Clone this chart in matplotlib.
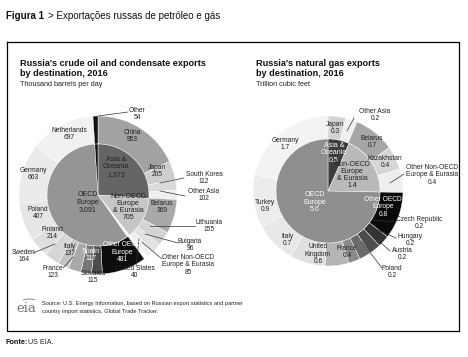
import matplotlib.pyplot as plt
from matplotlib.patches import Arc

# crude oil, thousand barrels per day (clockwise from 12 o'clock)
oil_regions = ["Asia & Oceania", "Non-OECD Europe & Eurasia", "United States", "OECD Europe", "Other"]
oil_region_vals = [1373, 705, 40, 3091, 54]
oil_region_cols = ["#656565", "#c6c6c6", "#f6f6f6", "#959595", "#111111"]

oil_countries = ["China", "Japan", "South Korea", "Other Asia",
                 "Belarus", "Lithuania", "Bulgaria", "Other Non-OECD Europe & Eurasia",
                 "United States",
                 "Other OECD Europe", "Slovakia", "Spain", "Italy", "France", "Sweden",
                 "Finland", "Poland", "Germany", "Netherlands",
                 "Other"]
oil_country_vals = [953, 205, 112, 102,
                    369, 155, 96, 85,
                    40,
                    481, 115, 117, 137, 123, 164, 214, 407, 663, 697,
                    54]
oil_country_cols = ["#a2a2a2", "#cecece", "#dadada", "#efefef",
                    "#a9a9a9", "#d4d4d4", "#e2e2e2", "#efefef",
                    "#fafafa",
                    "#0d0d0d", "#4d4d4d", "#767676", "#a9a9a9", "#c4c4c4", "#d6d6d6",
                    "#dedede", "#e6e6e6", "#ebebeb", "#f1f1f1",
                    "#111111"]

# natural gas, trillion cubic feet
gas_regions = ["Asia & Oceania", "Non-OECD Europe & Eurasia", "OECD Europe"]
gas_region_vals = [0.5, 1.4, 5.6]
gas_region_cols = ["#3d3d3d", "#b9b9b9", "#8f8f8f"]

gas_countries = ["Japan", "Other Asia", "Belarus", "Kazakhstan", "Other Non-OECD Europe & Eurasia",
                 "Other OECD Europe", "Czech Republic", "Hungary", "Austria", "Poland",
                 "France", "United Kingdom", "Italy", "Turkey", "Germany"]
gas_country_vals = [0.3, 0.2, 0.7, 0.4, 0.4,
                    0.8, 0.2, 0.2, 0.2, 0.2,
                    0.4, 0.6, 0.7, 0.9, 1.7]
gas_country_cols = ["#d2d2d2", "#f0f0f0", "#a6a6a6", "#d6d6d6", "#eeeeee",
                    "#0a0a0a", "#333333", "#4d4d4d", "#6b6b6b", "#8a8a8a",
                    "#b5b5b5", "#e0e0e0", "#e8e8e8", "#ececec", "#f3f3f3"]

W, H = 468, 357
fig = plt.figure(figsize=(W / 100, H / 100), dpi=100)
ax = fig.add_axes([0, 0, 1, 1])
plt.rcParams['font.family'] = ['Liberation Sans', 'DejaVu Sans']


def Y(y):
    return H - y


def donut(cx, cy, R, r, outer, outer_cols, inner, inner_cols):
    ax.pie(outer, colors=outer_cols, radius=R, center=(cx, Y(cy)), startangle=90,
           counterclock=False, frame=True,
           wedgeprops=dict(width=R - r, edgecolor="white", linewidth=0.3))
    ax.pie(inner, colors=inner_cols, radius=r, center=(cx, Y(cy)), startangle=90,
           counterclock=False, frame=True,
           wedgeprops=dict(edgecolor="white", linewidth=0.3))


donut(98, 195, 79, 51, oil_country_vals, oil_country_cols, oil_region_vals, oil_region_cols)
donut(328, 191, 75, 52, gas_country_vals, gas_country_cols, gas_region_vals, gas_region_cols)

ax.set_xlim(0, W)
ax.set_ylim(0, H)
ax.set_aspect("auto")
ax.axis("off")


def lab(x, y, s, c="#222222", fs=4.8):
    ax.text(x, Y(y), s, ha="center", va="center", fontsize=fs, color=c, linespacing=1.05)


def line(x0, y0, x1, y1):
    ax.plot([x0, x1], [Y(y0), Y(y1)], color="#333333", lw=0.5)


# left chart labels
lab(137, 114, "Other\n54")
line(98, 116, 128, 112)
lab(69, 134, "Netherlands\n697")
lab(132, 136, "China\n953")
lab(116, 167, "Asia &\nOceania\n1,373", fs=5)
lab(157, 171, "Japan\n205")
lab(33, 174, "Germany\n663")
lab(204, 178, "South Korea\n112")
line(160, 183, 184, 178)
lab(204, 195, "Other Asia\n102")
line(160, 191, 185, 196)
lab(88, 202, "OECD\nEurope\n3,091", fs=5)
lab(128, 207, "Non-OECD\nEurope\n& Eurasia\n705", fs=5)
lab(162, 207, "Belarus\n369")
lab(38, 213, "Poland\n407")
lab(209, 226, "Lithuania\n155")
line(150, 226, 195, 226)
lab(52, 233, "Finland\n214")
lab(190, 245, "Bulgaria\n96")
line(145, 234, 178, 243)
lab(24, 256, "Sweden\n164")
line(33, 253, 55, 244)
lab(70, 250, "Italy\n137")
lab(91, 255, "Spain\n117", c="white", fs=5)
lab(122, 252, "Other OECD\nEurope\n481", c="white")
lab(188, 265, "Other Non-OECD\nEurope & Eurasia\n85")
line(142, 242, 162, 259)
lab(53, 272, "France\n123")
line(63, 268, 73, 257)
lab(93, 277, "Slovakia\n115")
line(93, 266, 93, 271)
lab(135, 272, "United States\n40")
line(139, 239, 136, 266)

# right chart labels
lab(375, 115, "Other Asia\n0.2")
line(347, 131, 354, 118)
lab(335, 128, "Japan\n0.3")
lab(285, 144, "Germany\n1.7")
lab(372, 142, "Belarus\n0.7")
lab(334, 153, "Asia &\nOceania\n0.5", c="white", fs=5)
lab(352, 175, "Non-OECD\nEurope\n& Eurasia\n1.4", fs=5)
lab(385, 162, "Kazakhstan\n0.4")
lab(432, 175, "Other Non-OECD\nEurope & Eurasia\n0.4")
line(390, 183, 404, 174)
lab(315, 202, "OECD\nEurope\n5.6", c="white", fs=5)
lab(265, 206, "Turkey\n0.9")
lab(383, 207, "Other OECD\nEurope\n0.8", c="white")
lab(419, 223, "Czech Republic\n0.2")
line(373, 220, 396, 222)
lab(410, 240, "Hungary\n0.2")
line(373, 228, 396, 238)
lab(287, 240, "Italy\n0.7")
lab(318, 254, "United\nKingdom\n0.6")
lab(347, 252, "France\n0.4")
lab(402, 254, "Austria\n0.2")
line(370, 233, 390, 251)
lab(392, 272, "Poland\n0.2")
line(362, 242, 382, 268)

# titles
ax.text(20, Y(59), "Russia's crude oil and condensate exports\nby destination, 2016",
        ha="left", va="top", fontsize=6.6, fontweight="bold", color="#111111", linespacing=1.2)
ax.text(20, Y(85), "Thousand barrels per day", ha="left", va="center", fontsize=5.2, color="#222222")
ax.text(256, Y(59), "Russia's natural gas exports\nby destination, 2016",
        ha="left", va="top", fontsize=6.6, fontweight="bold", color="#111111", linespacing=1.2)
ax.text(256, Y(85), "Trillion cubic feet", ha="left", va="center", fontsize=5.2, color="#222222")

# frame box
ax.plot([7, 459, 459, 7, 7], [Y(42), Y(42), Y(331), Y(331), Y(42)], color="black", lw=0.9)

# header and footer
ax.text(6, Y(16), "Figura 1", ha="left", va="center", fontsize=7, fontweight="bold", color="#111111")
ax.text(48, Y(16), "> Exportações russas de petróleo e gás", ha="left", va="center",
        fontsize=7, color="#111111")
ax.text(16, Y(309), "eia", ha="left", va="center", fontsize=9.5, family="DejaVu Serif", color="#777777")
ax.add_patch(Arc((29, Y(305)), 22, 12, theta1=40, theta2=140, color="#777777", lw=0.6))
ax.text(42, Y(304), "Source: U.S. Energy Information, based on Russian export statistics and partner",
        ha="left", va="center", fontsize=4.1, color="#222222")
ax.text(42, Y(311), "country import statistics, Global Trade Tracker.",
        ha="left", va="center", fontsize=4.1, color="#222222")
ax.text(5, Y(342), "Fonte:", ha="left", va="center", fontsize=5.2, fontweight="bold", color="#111111")
ax.text(28, Y(342), "US EIA.", ha="left", va="center", fontsize=5.2, color="#222222")

fig.savefig("out.png", dpi=100)
